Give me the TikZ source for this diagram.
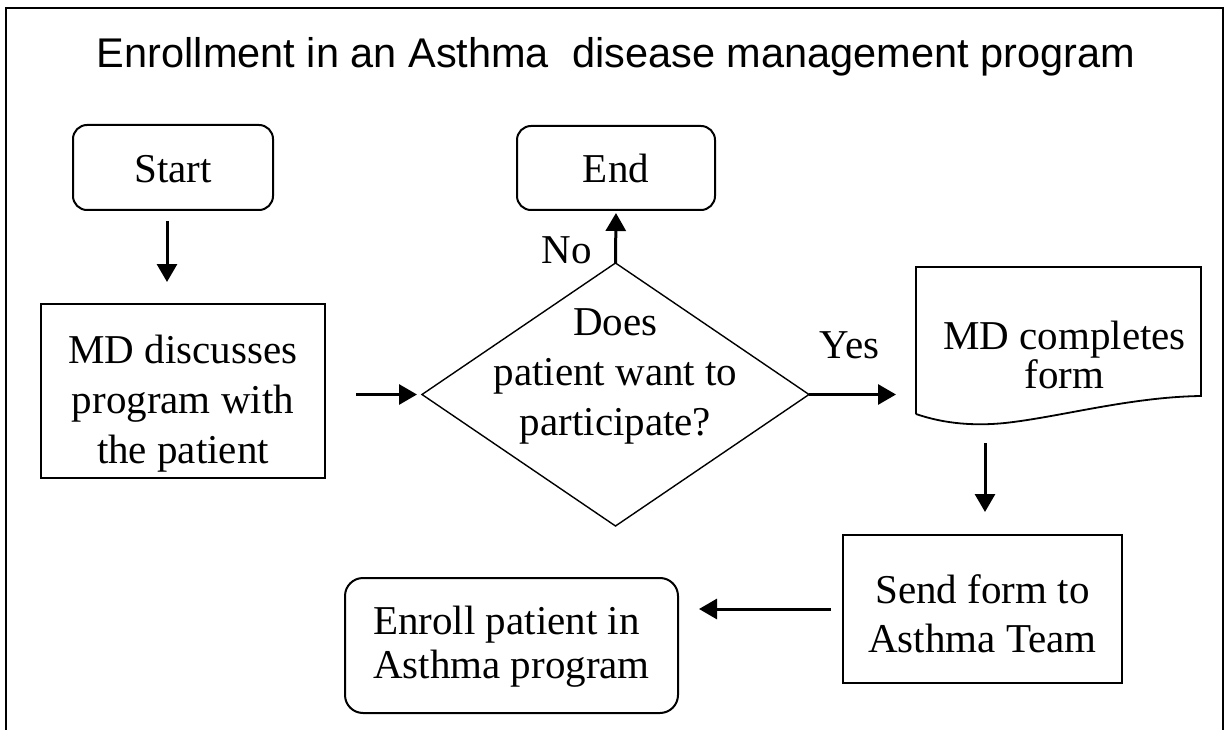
\documentclass[tikz,border=0pt]{standalone}
\usepackage{fontspec}
\setmainfont{Liberation Serif}
\newfontfamily\titlefont{Liberation Sans}
\usetikzlibrary{arrows.meta}
\newcommand{\tst}[1]{\rule{0pt}{#1pt}}
\newcommand{\bst}[1]{\rule[-#1pt]{0pt}{#1pt}}
\begin{document}
\begin{tikzpicture}[x=1pt,y=-1pt,
  box/.style={draw, line width=2pt, inner sep=0pt, align=center,
    font=\fontsize{41pt}{50pt}\selectfont},
  rbox/.style={box, rounded corners=14pt},
  arr/.style={line width=3pt, -{Triangle[length=18pt,width=20pt]}},
  lbl/.style={font=\fontsize{41pt}{50pt}\selectfont, inner sep=0pt},
  frameline/.style={line width=2.2pt},
  thinline/.style={line width=1.4pt, line join=miter}]
\useasboundingbox (0,0) rectangle (1229,730);
\fill[white] (0,0) rectangle (1229,730);
% outer frame (open at the bottom edge of the picture)
\draw[frameline] (6,731) -- (6,8) -- (1223,8) -- (1223,731);
% title
\node[inner sep=0pt, anchor=base] (title) at (616,68)
  {\titlefont\fontsize{41.5pt}{48pt}\selectfont Enrollment in an Asthma\ \ disease management program};
% nodes
\node[rbox, minimum width=200pt, minimum height=85pt] (start) at (173,167.5) {\tst{43}Start\bst{12}};
\node[rbox, minimum width=198pt, minimum height=84pt] (endn) at (616,168) {\tst{42}End\bst{12}};
\node[box, minimum width=284pt, minimum height=174pt] (md) at (183,391)
  {\tst{56}MD discusses\\program with\\the patient\bst{12}};
\node[box, draw=none, minimum width=385pt, minimum height=261pt] (dia) at (615.5,394.5)
  {\tst{30}Does\\patient want to\\participate?\bst{49}};
\draw[thinline] (dia.west) -- (dia.north) -- (dia.east) -- (dia.south) -- cycle;
\node[box, draw=none, minimum width=283pt, minimum height=145pt,
  font=\fontsize{41pt}{39pt}\selectfont] (form) at (1058.5,340.5)
  {\tst{68}\hspace*{12pt}MD completes\\\hspace*{12pt}form\bst{12}};
\draw[line width=1.8pt, line join=miter] (form.south west) -- (form.north west) -- (form.north east)
  -- ([yshift=18pt]form.south east)
  .. controls (1130,397) and (1060,417) .. (1005,423)
  .. controls (975,426) and (945,424) .. (form.south west);
\node[box, minimum width=279pt, minimum height=148pt,
  font=\fontsize{41pt}{49pt}\selectfont] (send) at (982.5,609)
  {\tst{49}Send form to\\Asthma Team\bst{12}};
\node[rbox, rounded corners=18pt, align=left, minimum width=333pt, minimum height=135pt,
  font=\fontsize{41pt}{44pt}\selectfont] (enroll) at (511.5,645.5)
  {\tst{33}Enroll patient in\\Asthma program\bst{12}};
% connectors
\draw[arr, shorten <=10pt, shorten >=21pt] ([xshift=-6pt]start.south) -- ([xshift=-6pt]start.south |- md.north);
\draw[arr, shorten <=30pt, shorten >=5pt] (md.east |- dia.west) -- (dia.west);
\draw[arr, shorten >=2pt] (dia.north) -- node[lbl, at start, anchor=base east, xshift=-22pt] {No} (endn.south);
\draw[arr, shorten >=20pt] (dia.east) -- node[lbl, midway, anchor=base, xshift=-13pt, yshift=36pt] {Yes} (form.west |- dia.east);
\draw[arr, shorten <=29pt, shorten >=22pt] ([xshift=-73.5pt]form.south) -- ([xshift=-73.5pt]form.south |- send.north);
\draw[arr, shorten <=11pt, shorten >=20pt] (send.west) -- (enroll.east |- send.west);
\end{tikzpicture}
\end{document}
